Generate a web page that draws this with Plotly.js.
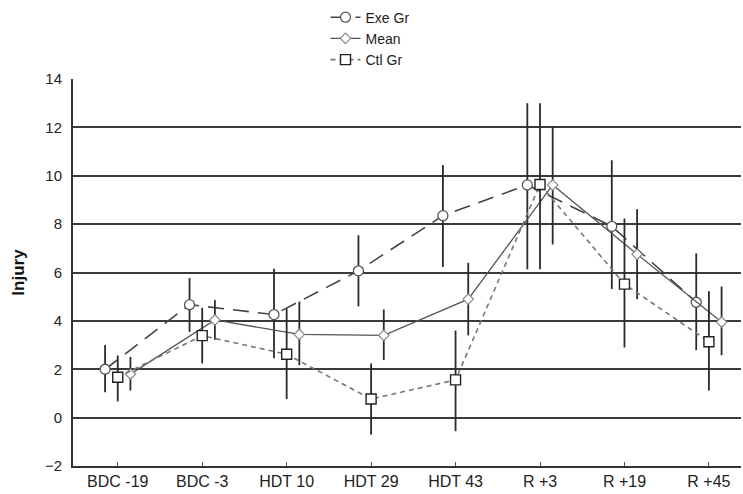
<!DOCTYPE html>
<html>
<head>
<meta charset="utf-8">
<script src="https://cdn.plot.ly/plotly-3.0.1.min.js"></script>
<style>html,body{margin:0;padding:0;background:#fff;}#chart{width:743px;height:494px;}</style>
</head>
<body>
<div id="chart"></div>
<script>
// Time points (categories)
const categories = ["BDC -19", "BDC -3", "HDT 10", "HDT 29", "HDT 43", "R +3", "R +19", "R +45"];

// Exercise group
const exeValues = [2.0, 4.67, 4.26, 6.07, 8.35, 9.62, 7.91, 4.77];
const exeUpper  = [3.0, 5.77, 6.16, 7.54, 10.44, 13.0, 10.64, 6.79];
const exeLower  = [1.05, 3.54, 2.45, 4.6, 6.23, 6.13, 5.32, 2.79];

// Mean of both groups
const meanValues = [1.8, 4.04, 3.44, 3.40, 4.9, 9.62, 6.75, 3.95];
const meanUpper  = [2.51, 4.86, 4.8, 4.47, 6.4, 12.05, 8.62, 5.42];
const meanLower  = [1.12, 3.22, 2.17, 2.38, 3.4, 7.16, 4.9, 2.58];

// Control group
const ctlValues = [1.67, 3.39, 2.62, 0.77, 1.56, 9.64, 5.52, 3.14];
const ctlUpper  = [2.57, 4.54, 4.5, 2.24, 3.6, 13.0, 8.23, 5.22];
const ctlLower  = [0.67, 2.24, 0.77, -0.7, -0.56, 6.13, 2.9, 1.12];

const yTicks = [-2, 0, 2, 4, 6, 8, 10, 12, 14];

const idx = categories.map((c, i) => i);
const shift = 0.15;

function errs(vals, up, lo) {
  return {
    type: 'data', symmetric: false,
    array: vals.map((v, i) => up[i] - v),
    arrayminus: vals.map((v, i) => v - lo[i]),
    color: '#2a2a2a', thickness: 1.8, width: 0
  };
}

const traces = [
  {
    name: 'Exe Gr', type: 'scatter', mode: 'lines+markers',
    x: idx.map(i => i - shift), y: exeValues,
    error_y: errs(exeValues, exeUpper, exeLower),
    line: {color: '#444', width: 1.6, dash: '16px,9px'},
    marker: {symbol: 'circle', size: 10, color: '#fff', line: {color: '#555', width: 1.3}}
  },
  {
    name: 'Mean', type: 'scatter', mode: 'lines+markers',
    x: idx.map(i => i + shift), y: meanValues,
    error_y: errs(meanValues, meanUpper, meanLower),
    line: {color: '#555', width: 1.3},
    marker: {symbol: 'diamond', size: 8, color: '#fff', line: {color: '#888', width: 1.2}}
  },
  {
    name: 'Ctl Gr', type: 'scatter', mode: 'lines+markers',
    x: idx, y: ctlValues,
    error_y: errs(ctlValues, ctlUpper, ctlLower),
    line: {color: '#777', width: 1.6, dash: '5px,4px'},
    marker: {symbol: 'square', size: 10, color: '#fff', line: {color: '#222', width: 1.4}}
  }
];

const layout = {
  width: 743, height: 494,
  margin: {l: 73, r: 2, t: 76, b: 28},
  paper_bgcolor: '#fff', plot_bgcolor: '#fff',
  font: {family: 'Liberation Sans, Arial, sans-serif', color: '#222'},
  showlegend: true,
  legend: {
    x: 0.378, y: 1.2, xref: 'paper', yref: 'paper', xanchor: 'left', yanchor: 'top',
    font: {size: 14, color: '#222'}, bgcolor: 'rgba(0,0,0,0)', tracegroupgap: 0
  },
  xaxis: {
    range: [-0.53, 7.38],
    tickvals: idx, ticktext: categories,
    showgrid: false, zeroline: false,
    showline: true, linecolor: '#333', linewidth: 2,
    ticks: 'inside', ticklen: 4, tickcolor: '#555', tickwidth: 1,
    tickfont: {size: 16, color: '#222'}
  },
  yaxis: {
    range: [-2, 14],
    tickvals: yTicks,
    showgrid: true, gridcolor: '#3a3a3a', gridwidth: 2,
    zeroline: false,
    showline: true, linecolor: '#333', linewidth: 2,
    ticks: '', ticklabelstandoff: 6,
    tickfont: {size: 15, color: '#222'},
    title: {text: '<b>Injury</b>', font: {size: 17, color: '#111'}, standoff: 16}
  }
};

Plotly.newPlot('chart', traces, layout, {displayModeBar: false, staticPlot: true});
</script>
</body>
</html>
